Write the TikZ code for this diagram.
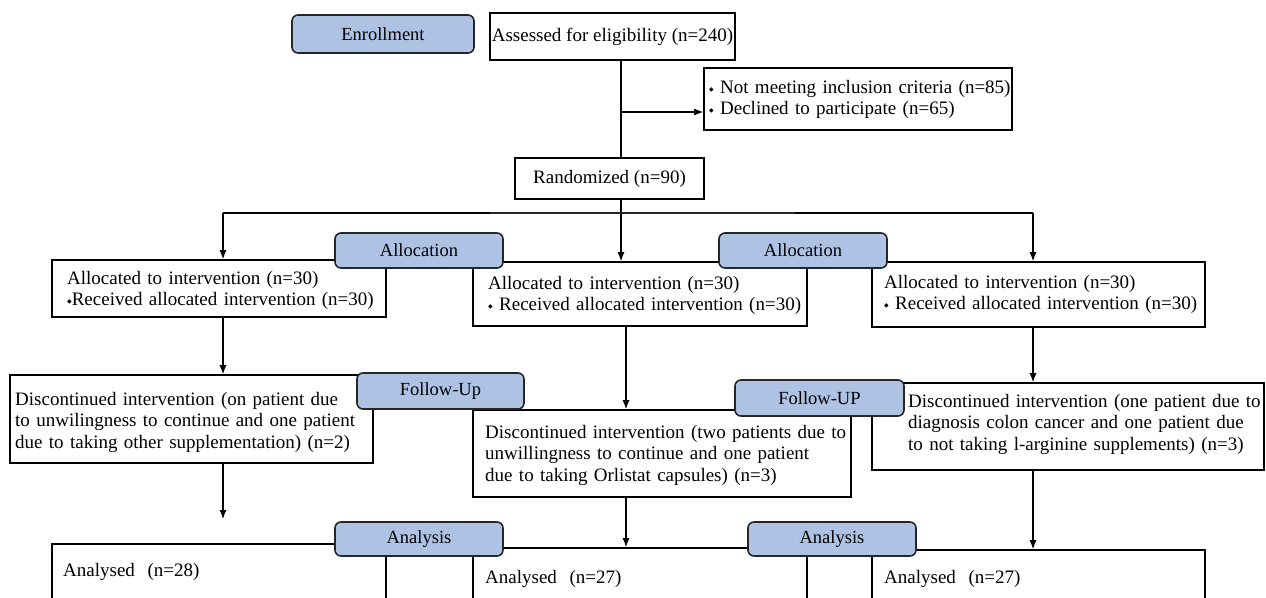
\documentclass[tikz,border=0pt]{standalone}
\usepackage{fontspec}
\setmainfont{Liberation Serif}
\newfontfamily\symfont{DejaVu Sans}
\usetikzlibrary{arrows.meta,fit}
\definecolor{labfill}{RGB}{174,195,227}
\newcommand{\dm}{{\symfont\fontsize{6}{6}\selectfont\raisebox{2pt}{◆}}}
\begin{document}
\begin{tikzpicture}[x=1pt,y=-1pt,
  box/.style={draw=black, line width=1.6pt, fill=white, inner sep=0pt},
  lab/.style={draw=black!85, line width=1.6pt, fill=labfill, rounded corners=6pt, inner sep=0pt},
  ltxt/.style={inner sep=0pt, font=\fontsize{18.5}{21}\selectfont},
  txt/.style={inner sep=0pt, anchor=base west, align=left, text width=420pt, font=\fontsize{19}{21.5}\selectfont},
  ctxt/.style={inner sep=0pt, font=\fontsize{19}{21.5}\selectfont},
  con/.style={line width=1.1pt},
  arr/.style={line width=1.1pt, -{Latex[length=9pt,width=7pt]}}]
\useasboundingbox (0,0) rectangle (1266,597);
\clip (0,0) rectangle (1266,597);
% boxes
\node[box, fit={(490,13) (735,60)}] (assess) {};
\node[box, fit={(704,68) (1012,130)}] (excl) {};
\node[box, fit={(515,158) (704,199)}] (rand) {};
\node[box, fit={(52,260) (386,317)}] (a1) {};
\node[box, fit={(473,262) (807,326)}] (a2) {};
\node[box, fit={(872,262) (1205,327)}] (a3) {};
\node[box, fit={(10,375) (373,463)}] (f1) {};
\node[box, fit={(473,410) (851,497)}] (f2) {};
\node[box, fit={(872,383) (1264,470)}] (f3) {};
\node[box, fit={(52,544) (386,620)}] (an1) {};
\node[box, fit={(473,548) (807,620)}] (an2) {};
\node[box, fit={(872,550) (1205,620)}] (an3) {};
% texts
\node[ctxt] (tassess) at (assess.center) {Assessed for eligibility (n=240)};
\node[txt] (texcl) at (709,93) {\dm\ Not meeting inclusion criteria (n=85)\\\dm\ Declined to participate (n=65)};
\node[ctxt] (trand) at (rand.center) {Randomized (n=90)};
\node[txt] (ta1) at (67,284) {Allocated to intervention (n=30)\\\dm Received allocated intervention (n=30)};
\node[txt] (ta2) at (488,289) {Allocated to intervention (n=30)\\\dm\ Received allocated intervention (n=30)};
\node[txt] (ta3) at (884,288) {Allocated to intervention (n=30)\\\dm\ Received allocated intervention (n=30)};
\node[txt] (tf1) at (15,405) {Discontinued intervention (on patient due\\to unwilingness to continue and one patient\\due to taking other supplementation) (n=2)};
\node[txt] (tf2) at (485,438) {Discontinued intervention (two patients due to\\unwillingness to continue and one patient\\due to taking Orlistat capsules) (n=3)};
\node[txt] (tf3) at (908,407) {Discontinued intervention (one patient due to\\diagnosis colon cancer and one patient due\\to not taking l-arginine supplements) (n=3)};
\node[txt] (tan1) at (63,576) {Analysed~~(n=28)};
\node[txt] (tan2) at (485,583) {Analysed~~(n=27)};
\node[txt] (tan3) at (884,583) {Analysed~~(n=27)};
% connector coordinates
\coordinate (cx) at (621,0);
\coordinate (c2) at (626,0);
\coordinate (lx) at (223,0);
\coordinate (rx) at (1033,0);
\coordinate (br) at (621,112);
\coordinate (hl) at (223,213);
\coordinate (hr) at (1033,213);
\coordinate (fend) at (223,519);
% connectors
\draw[con] (assess.south -| cx) -- (rand.north -| cx);
\draw[arr] (br) -- (excl.west |- br);
\draw[arr] (rand.south -| cx) -- (a2.north -| cx);
\draw[con] (hl) -- (hr);
\draw[con, line width=1.8pt, black!85] (490,213) -- (795,213);
\draw[arr] (hl) -- (a1.north -| hl);
\draw[arr] (hr) -- (a3.north -| hr);
\draw[arr] (a1.south -| lx) -- (f1.north -| lx);
\draw[arr] (f1.south -| lx) -- (fend);
\draw[arr] (a2.south -| c2) -- (f2.north -| c2);
\draw[arr] (f2.south -| c2) -- (an2.north -| c2);
\draw[arr] (a3.south -| rx) -- (f3.north -| rx);
\draw[arr] (f3.south -| rx) -- (an3.north -| rx);
% labels
\node[lab, fit={(292,15) (474,53)}] (enr) {};
\node[ltxt] (tenr) at (enr.center) {Enrollment};
\node[lab, fit={(335,233) (503,268)}] (al1) {};
\node[ltxt] (tal1) at (al1.center) {Allocation};
\node[lab, fit={(719,233) (887,268)}] (al2) {};
\node[ltxt] (tal2) at (al2.center) {Allocation};
\node[lab, fit={(357,373) (524,409)}] (fu1) {};
\node[ltxt] (tfu1) at (fu1.center) {Follow-Up};
\node[lab, fit={(735,380) (904,416)}] (fu2) {};
\node[ltxt] (tfu2) at (fu2.center) {Follow-UP};
\node[lab, fit={(335,522) (503,556)}] (an1l) {};
\node[ltxt] (tan1l) at (an1l.center) {Analysis};
\node[lab, fit={(748,522) (916,556)}] (an2l) {};
\node[ltxt] (tan2l) at (an2l.center) {Analysis};
\end{tikzpicture}
\end{document}
